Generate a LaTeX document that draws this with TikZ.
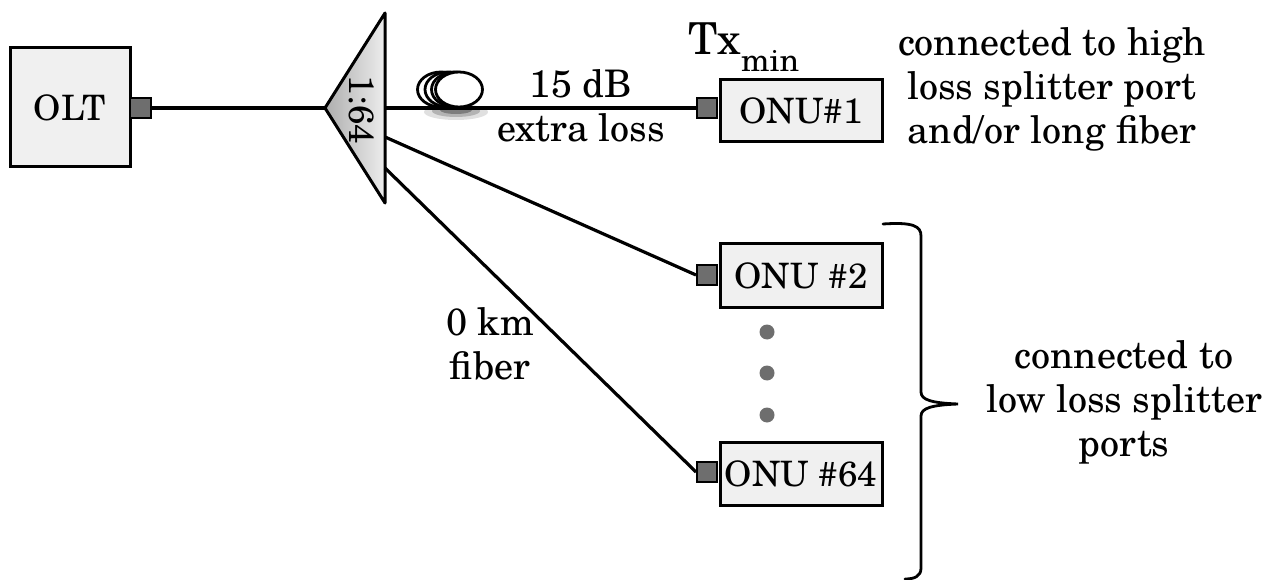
\documentclass[tikz,border=0pt]{standalone}
\usepackage{fontspec}
\setmainfont{TeX Gyre Schola}
\begin{document}
\begin{tikzpicture}[x=1pt,y=-1pt,
  box/.style={draw, line width=3pt, fill=black!6, inner sep=0pt, font=\fontsize{35}{40}\selectfont},
  port/.style={draw, line width=2pt, fill=black!57, minimum width=20pt, minimum height=20pt, inner sep=0pt},
  fiber/.style={line width=3.2pt},
  lbl/.style={font=\fontsize{38}{44}\selectfont, align=center, inner sep=0pt},
  coil/.style={draw, line width=2.8pt, fill=white},
  dot/.style={fill=black!57}]
\useasboundingbox (0,0) rectangle (1269,580);

% OLT
\node[box, minimum width=120pt, minimum height=119pt] (olt) at (70,107.5) {OLT};
\node[port, minimum width=21pt] (oltp) at (140.5,108) {};

% splitter
\coordinate (tip) at (325,108);
\coordinate (stop) at (385,13);
\coordinate (sbot) at (385,203);
\coordinate (s1) at (385,108);
\coordinate (s2) at (385,137);
\coordinate (s3) at (385,168);
\shade[left color=black!32, right color=black!7] (tip) -- (stop) -- (sbot) -- cycle;
\draw[line width=3pt, line join=round] (tip) -- (stop) -- (sbot) -- cycle;
\node[rotate=-90, font=\fontsize{35}{40}\selectfont, inner sep=0pt] (ratio) at (362,110) {1:64};

% ONUs
\node[box, minimum width=162pt, minimum height=62pt] (onu1) at (801,111) {ONU\#1};
\node[port] (onu1p) at (707,108) {};
\node[box, minimum width=162pt, minimum height=63pt] (onu2) at (801,275.5) {ONU \#2};
\node[port] (onu2p) at (707,275) {};
\node[box, minimum width=162pt, minimum height=63pt] (onu64) at (801,473.5) {ONU \#64};
\node[port] (onu64p) at (707,472) {};

% coil shadow
\fill[black, opacity=.12] (456,112) ellipse (32pt and 8pt);
\fill[black, opacity=.2] (456,111) ellipse (24pt and 6pt);
\fill[black, opacity=.3] (456,110) ellipse (16pt and 4pt);

% fibers
\draw[fiber] (oltp.east) -- (tip);
\draw[fiber] (s1) -- (onu1p.west);
\draw[fiber] (s2) -- (onu2p.west);
\draw[fiber] (s3) -- (onu64p.west);

% fiber coil
\path[coil] (441,89.5) ellipse (23.5pt and 17.5pt);
\path[coil] (448.5,89.5) ellipse (23.5pt and 17.5pt);
\path[coil] (455,89.5) ellipse (23.5pt and 17.5pt);
\path[coil] (459,89.5) ellipse (23.5pt and 17.5pt);

% dots
\fill[dot] (767,332) circle (7.5pt);
\fill[dot] (767,373) circle (7.5pt);
\fill[dot] (767,415) circle (7.5pt);

% labels
\node[lbl] (loss) at (581,106) {15 dB\\extra loss};
\node[lbl] (km) at (490,344) {0 km\\fiber};
\node[anchor=base west, inner sep=0pt] (tx) at (688,55)
  {\fontsize{44}{50}\selectfont Tx\raisebox{-17pt}{\fontsize{32}{36}\selectfont min}};
\node[lbl] (high) at (1052,89.5) {connected to high\\loss splitter port\\and/or long fiber};
\node[lbl] (low) at (1124,402) {connected to\\low loss splitter\\ports};

% brace
\coordinate (btop) at (883,224);
\coordinate (btip) at (958,404);
\coordinate (bbot) at (905,579);
\draw[line width=2.8pt, line cap=round]
  (btop) .. controls (913,222) and (921,226) .. (921,236) -- (921,392)
  .. controls (921,400) and (932,403) .. (btip)
  .. controls (932,405) and (921,408) .. (921,416) -- (921,568)
  .. controls (921,576) and (915,579) .. (bbot);
\end{tikzpicture}
\end{document}
